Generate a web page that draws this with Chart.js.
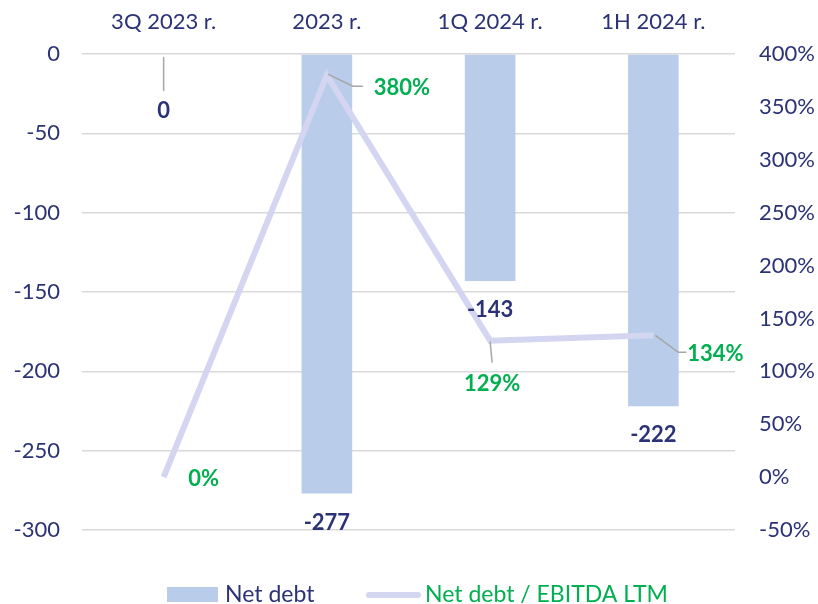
<!DOCTYPE html>
<html>
<head>
<meta charset="utf-8">
<script src="https://cdn.jsdelivr.net/npm/chart.js@4.4.1/dist/chart.umd.min.js"></script>
<style>
  html, body { margin: 0; padding: 0; background: #fff; }
  #wrap { position: relative; width: 818px; height: 604px; }
</style>
</head>
<body>
<div id="wrap"><canvas id="chart" width="818" height="604"></canvas></div>
<script>
// данные графика
const periods = ['3Q 2023 r.', '2023 r.', '1Q 2024 r.', '1H 2024 r.'];
const netDebt = [0, -277, -143, -222];
const debtToEbitda = [0, 380, 129, 134];
const leftTicks = [0, -50, -100, -150, -200, -250, -300];
const rightTicks = [400, 350, 300, 250, 200, 150, 100, 50, 0, -50];

const NAVY = '#2b3275';
const GREEN = '#00b050';
const BAR = '#b9cce9';
const LINE = '#d3d5f1';
const LEADER = '#a6a6a6';
const FONT = 'Lato, "Noto Sans", sans-serif';

// смещения подписей относительно точки / конца столбца
const barLabelPos = [
  { dx: 0, dy: 57, leader: [[0, 3], [0, 37]] },
  { dx: 0, dy: 29 },
  { dx: 0, dy: 29 },
  { dx: 0, dy: 29 }
];
const lineLabelPos = [
  { dx: 40, dy: 2 },
  { dx: 75, dy: 13, leader: [[1, -1], [26, 11], [36, 11]] },
  { dx: 2, dy: 43, leader: [[0, 1], [2, 22]] },
  { dx: 62, dy: 19, leader: [[2, 0], [25, 17], [33, 17]] }
];

const labelsPlugin = {
  id: 'valueLabels',
  afterDatasetsDraw(chart) {
    const ctx = chart.ctx;
    ctx.save();
    ctx.font = 'bold 22px ' + FONT;
    ctx.textAlign = 'center';
    ctx.textBaseline = 'middle';
    const draw = (meta, values, pos, color, fmt) => {
      meta.data.forEach((el, i) => {
        const p = pos[i];
        if (p.leader) {
          ctx.strokeStyle = LEADER;
          ctx.lineWidth = 1.5;
          ctx.beginPath();
          p.leader.forEach((pt, k) => {
            const fn = k === 0 ? 'moveTo' : 'lineTo';
            ctx[fn](el.x + pt[0], el.y + pt[1]);
          });
          ctx.stroke();
        }
        ctx.fillStyle = color;
        ctx.fillText(fmt(values[i]), el.x + p.dx, el.y + p.dy);
      });
    };
    draw(chart.getDatasetMeta(0), netDebt, barLabelPos, NAVY, v => String(v));
    draw(chart.getDatasetMeta(1), debtToEbitda, lineLabelPos, GREEN, v => v + '%');
    ctx.restore();
  },
  afterDraw(chart) {
    // легенда снизу
    const ctx = chart.ctx;
    ctx.save();
    ctx.font = '23px ' + FONT;
    ctx.textBaseline = 'middle';
    const y = 595;
    ctx.fillStyle = BAR;
    ctx.fillRect(167, 587, 51, 15);
    ctx.fillStyle = NAVY;
    ctx.fillText('Net debt', 225, y);
    ctx.strokeStyle = LINE;
    ctx.lineWidth = 6;
    ctx.lineCap = 'round';
    ctx.beginPath();
    ctx.moveTo(369, y);
    ctx.lineTo(418, y);
    ctx.stroke();
    ctx.fillStyle = GREEN;
    ctx.fillText('Net debt / EBITDA LTM', 425, y);
    ctx.restore();
  }
};

new Chart(document.getElementById('chart'), {
  data: {
    labels: periods,
    datasets: [
      {
        type: 'bar',
        label: 'Net debt',
        data: netDebt,
        backgroundColor: BAR,
        yAxisID: 'y',
        categoryPercentage: 1,
        barPercentage: 0.31,
        order: 1
      },
      {
        type: 'line',
        label: 'Net debt / EBITDA LTM',
        data: debtToEbitda,
        borderColor: LINE,
        borderWidth: 6,
        pointRadius: 0,
        tension: 0,
        yAxisID: 'y1',
        order: 0
      }
    ]
  },
  options: {
    responsive: false,
    animation: false,
    layout: { padding: { top: 0, left: 0, right: 0, bottom: 74 } },
    plugins: {
      legend: { display: false },
      tooltip: { enabled: false }
    },
    scales: {
      x: {
        position: 'top',
        grid: { display: false },
        border: { display: false },
        ticks: { color: NAVY, font: { family: FONT, size: 22 }, padding: 11 },
        afterFit(s) { s.height = 54; }
      },
      y: {
        position: 'left',
        min: -300,
        max: 0,
        afterBuildTicks(s) { s.ticks = leftTicks.map(v => ({ value: v })); },
        grid: { color: '#d9d9d9', lineWidth: 1.5, drawTicks: false },
        border: { display: false },
        ticks: { color: NAVY, font: { family: FONT, size: 22 }, padding: 22 },
        afterFit(s) { s.width = 82; }
      },
      y1: {
        position: 'right',
        min: -50,
        max: 400,
        afterBuildTicks(s) { s.ticks = rightTicks.map(v => ({ value: v })); },
        grid: { display: false },
        border: { display: false },
        ticks: { color: NAVY, font: { family: FONT, size: 22 }, padding: 16, callback: v => v + '%' },
        afterFit(s) { s.width = 83; }
      }
    }
  },
  plugins: [labelsPlugin]
});
</script>
</body>
</html>
